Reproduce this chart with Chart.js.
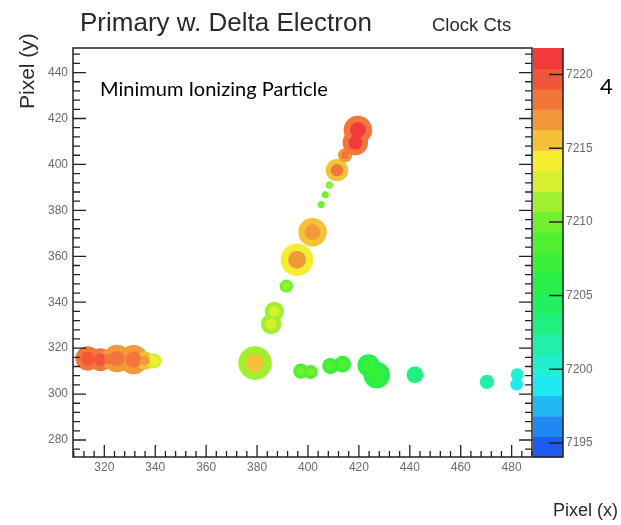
<!DOCTYPE html>
<html><head><meta charset="utf-8">
<script src="https://cdn.jsdelivr.net/npm/chart.js@4.4.1/dist/chart.umd.min.js"></script>
<style>html,body{margin:0;padding:0;background:#fff;}#wrap{width:621px;height:525px;}</style>
</head><body><div id="wrap"><canvas id="c" width="621" height="525"></canvas></div>
<script>
// ---- axis ranges & tick labels ----
const xRange = [307.7, 488.0];
const yRange = [272.6, 450.7];
const ctsRange = [7194.05, 7221.8];
const xTickLabels = [320, 340, 360, 380, 400, 420, 440, 460, 480];
const yTickLabels = [280, 300, 320, 340, 360, 380, 400, 420, 440];
const ctsTickLabels = [7195, 7200, 7205, 7210, 7215, 7220];

// ---- hit clusters (detector pixel coords), cluster radius in detector pixels, clock counts rim/core ----
const clusterX    = [313.5, 318.5, 322.0, 325.0, 331.5, 336.0, 339.5, 379.2, 385.5, 386.8, 391.5, 395.7, 401.8, 405.2, 406.8, 408.4, 411.4, 414.6, 418.6, 419.6, 397.2, 401.0, 408.8, 413.6, 423.8, 427.0, 442.0, 470.3, 482.2, 482.0];
const clusterY    = [315.5, 315.0, 315.3, 315.5, 315.0, 314.6, 314.5, 313.5, 330.5, 336.0, 347.0, 358.5, 370.5, 382.5, 386.8, 391.0, 397.5, 404.0, 409.5, 415.0, 310.0, 309.6, 312.2, 313.0, 312.5, 308.3, 308.4, 305.3, 308.5, 304.3];
const clusterR    = [4.8, 4.5, 3.8, 5.4, 5.7, 3.6, 3.0, 6.6, 4.0, 3.8, 2.6, 6.4, 5.6, 1.4, 1.4, 1.4, 4.4, 2.8, 5.0, 5.6, 3.0, 2.8, 3.2, 3.3, 4.4, 5.2, 3.3, 2.8, 2.5, 2.5];
const clusterRim  = [7218.5, 7218.5, 7217, 7217.5, 7217.5, 7215, 7213, 7211.5, 7211, 7211, 7210.5, 7214, 7215, 7209.5, 7209.5, 7210.5, 7216, 7217.5, 7219, 7219, 7208, 7208, 7207.5, 7207.5, 7206.5, 7206.5, 7202.5, 7201, 7200, 7199];
const clusterCore = [7220, 7219.5, 7218, 7218.5, 7219, 7216.5, 7214.5, 7215, 7213, 7213, 7212, 7216.5, 7217, 7210, 7210, 7211, 7218, 7218.5, 7221, 7221, 7209.5, 7209.5, 7208.5, 7208.5, 7207.5, 7207.5, 7203.5, 7201.5, 7200.5, 7199.5];

// ---- colour palette (20 contour bands, bottom -> top) ----
const paletteColors = ['#1e5cf0','#2088f0','#20b8f0','#20e8f0','#20f0d0','#20f0a8','#20f080','#22f060','#28f048','#38f038',
                       '#50f030','#70f030','#a0f030','#d6f030','#f5ee30','#f5c235','#f29a3a','#f2753a','#f2553a','#f23a3a'];

function colorFor(v) {
  const n = paletteColors.length;
  let k = Math.floor((v - ctsRange[0]) / (ctsRange[1] - ctsRange[0]) * n);
  k = Math.max(0, Math.min(n - 1, k));
  return paletteColors[k];
}
function radiusPx(c, f) {
  const i = c.dataIndex;
  if (i === undefined) return 3;
  const s = c.chart.scales.x;
  if (!s) return 3;
  return Math.abs(s.getPixelForValue(clusterX[i] + clusterR[i]) - s.getPixelForValue(clusterX[i])) * f;
}
const pts = clusterX.map((x, i) => ({x: x, y: clusterY[i]}));

const framePlugin = {
  id: 'rootFrame',
  afterDraw(chart) {
    const ctx = chart.ctx;
    const xs = chart.scales.x, ys = chart.scales.y, cs = chart.scales.cts;
    const L = chart.chartArea.left, R = chart.chartArea.right, T = chart.chartArea.top, B = chart.chartArea.bottom;
    ctx.save();
    // frame
    ctx.strokeStyle = '#222'; ctx.lineWidth = 1.5;
    ctx.strokeRect(L, T, R - L, B - T);
    ctx.lineWidth = 1.3;
    ctx.beginPath();
    for (let v = Math.ceil(xRange[0] / 4) * 4; v <= xRange[1]; v += 4) {
      const p = xs.getPixelForValue(v);
      const len = (v % 20 === 0) ? 12 : 6;
      ctx.moveTo(p, B); ctx.lineTo(p, B - len);
    }
    for (let v = Math.ceil(yRange[0] / 4) * 4; v <= yRange[1]; v += 4) {
      const p = ys.getPixelForValue(v);
      const len = (v % 20 === 0) ? 13 : 7;
      ctx.moveTo(L, p); ctx.lineTo(L + len, p);
      ctx.moveTo(R, p); ctx.lineTo(R - len, p);
    }
    ctx.stroke();
    // tick labels
    ctx.fillStyle = '#6a6a6a';
    ctx.font = '12px "Liberation Sans", Arial, sans-serif';
    ctx.textAlign = 'center'; ctx.textBaseline = 'top';
    xTickLabels.forEach(v => ctx.fillText(String(v), xs.getPixelForValue(v), B + 5));
    ctx.textAlign = 'right'; ctx.textBaseline = 'middle';
    yTickLabels.forEach(v => ctx.fillText(String(v), L - 5, ys.getPixelForValue(v)));
    // colour bar
    const cx0 = R + 1, cx1 = 563;
    const n = paletteColors.length, step = (ctsRange[1] - ctsRange[0]) / n;
    for (let k = 0; k < n; k++) {
      const y0 = cs.getPixelForValue(ctsRange[0] + k * step);
      const y1 = cs.getPixelForValue(ctsRange[0] + (k + 1) * step);
      ctx.fillStyle = paletteColors[k];
      ctx.fillRect(cx0, y1, cx1 - cx0, y0 - y1 + 0.5);
    }
    ctx.strokeStyle = '#222'; ctx.lineWidth = 1.5;
    ctx.beginPath();
    ctx.moveTo(cx1, T); ctx.lineTo(cx1, B); ctx.lineTo(cx0, B);
    ctsTickLabels.forEach(v => { const p = cs.getPixelForValue(v); ctx.moveTo(cx1, p); ctx.lineTo(cx1 - 14, p); });
    ctx.stroke();
    ctx.fillStyle = '#6a6a6a';
    ctx.textAlign = 'left'; ctx.textBaseline = 'middle';
    ctsTickLabels.forEach(v => ctx.fillText(String(v), cx1 + 3, cs.getPixelForValue(v)));
    // titles
    ctx.fillStyle = '#2a2a2a';
    ctx.textBaseline = 'alphabetic';
    ctx.font = '26px "Liberation Sans", Arial, sans-serif';
    ctx.fillText('Primary w. Delta Electron', 80, 31);
    ctx.font = '18.5px "Liberation Sans", Arial, sans-serif';
    ctx.fillText('Clock Cts', 432, 31);
    ctx.textAlign = 'right';
    ctx.font = '18px "Liberation Sans", Arial, sans-serif';
    ctx.fillText('Pixel (x)', 618, 516);
    ctx.textAlign = 'left';
    ctx.save();
    ctx.translate(34, 109); ctx.rotate(-Math.PI / 2);
    ctx.font = '21px "Liberation Sans", Arial, sans-serif';
    ctx.fillText('Pixel (y)', 0, 0);
    ctx.restore();
    // annotation
    ctx.fillStyle = '#000';
    let fs = 22;
    ctx.font = fs + 'px Lato, "Open Sans", sans-serif';
    const w = ctx.measureText('Minimum Ionizing Particle').width;
    fs = fs * 228 / w;
    ctx.font = fs.toFixed(2) + 'px Lato, "Open Sans", sans-serif';
    ctx.fillText('Minimum Ionizing Particle', 100, 96);
    ctx.font = '22px Lato, "Open Sans", sans-serif';
    ctx.fillText('4', 600, 94);
    ctx.restore();
  }
};

new Chart(document.getElementById('c'), {
  type: 'scatter',
  data: {
    datasets: [
      { label: 'core', data: pts, pointRadius: c => radiusPx(c, 0.55), pointHoverRadius: c => radiusPx(c, 0.55),
        pointBackgroundColor: c => colorFor(clusterCore[c.dataIndex]), pointBorderWidth: 0 },
      { label: 'rim', data: pts, pointRadius: c => radiusPx(c, 1), pointHoverRadius: c => radiusPx(c, 1),
        pointBackgroundColor: c => colorFor(clusterRim[c.dataIndex]), pointBorderWidth: 0 }
    ]
  },
  options: {
    responsive: false, animation: false, events: [],
    layout: { padding: { left: 73, right: 89, top: 48, bottom: 68 } },
    scales: {
      x: { type: 'linear', min: xRange[0], max: xRange[1], display: false },
      y: { type: 'linear', min: yRange[0], max: yRange[1], display: false },
      cts: { type: 'linear', axis: 'y', position: 'right', min: ctsRange[0], max: ctsRange[1], display: false }
    },
    plugins: { legend: { display: false }, tooltip: { enabled: false } }
  },
  plugins: [framePlugin]
});
</script></body></html>
